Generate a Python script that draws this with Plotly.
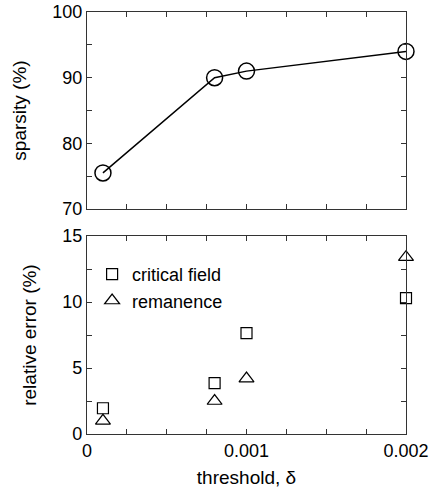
import plotly.graph_objects as go

thresholds = [0.0001, 0.0008, 0.001, 0.002]
sparsity = [75.5, 90.0, 91.0, 94.0]
critical_field_err = [1.95, 3.85, 7.65, 10.3]
remanence_err = [1.0, 2.5, 4.2, 13.4]

FONT = "Liberation Sans, Arial, sans-serif"
LINE = "#333333"
TICKSIZE = 18
TITLESIZE = 19

fig = go.Figure()

fig.add_trace(go.Scatter(
    x=thresholds, y=sparsity, mode="lines+markers", cliponaxis=False,
    line=dict(color="black", width=1.5),
    marker=dict(symbol="circle-open", size=16, color="black", line=dict(width=1.5)),
    xaxis="x2", yaxis="y2", showlegend=False))

fig.add_trace(go.Scatter(
    x=thresholds, y=critical_field_err, mode="markers", name="critical field",
    cliponaxis=False,
    marker=dict(symbol="square-open", size=11, color="black", line=dict(width=1.2)),
    xaxis="x", yaxis="y"))
fig.add_trace(go.Scatter(
    x=thresholds, y=remanence_err, mode="markers", name="remanence",
    cliponaxis=False,
    marker=dict(symbol="triangle-up-open", size=13, color="black", line=dict(width=1.2)),
    xaxis="x", yaxis="y"))

common = dict(showline=True, linecolor=LINE, linewidth=1.3, mirror="ticks",
              ticks="inside", ticklen=5, tickcolor=LINE, showgrid=False, zeroline=False,
              automargin=False,
              tickfont=dict(family=FONT, size=TICKSIZE, color="black"))
minor_common = dict(ticks="inside", ticklen=5, tickcolor=LINE)

fig.update_layout(
    template="none",
    width=431, height=491,
    margin=dict(l=87, r=25, t=12, b=57),
    plot_bgcolor="white", paper_bgcolor="white",
    font=dict(family=FONT, size=TICKSIZE, color="black"),
    xaxis=dict(domain=[0, 1], range=[0, 0.002], tickvals=[0, 0.001, 0.002],
               ticktext=["0", "0.001", "0.002"],
               minor=dict(dtick=0.00025, **minor_common),
               title=dict(text="threshold, δ", font=dict(family=FONT, size=TITLESIZE), standoff=10),
               anchor="y", **common),
    yaxis=dict(domain=[0, 0.469], range=[0, 15], dtick=5,
               minor=dict(dtick=2.5, **minor_common),
               title=dict(text="relative error (%)", font=dict(family=FONT, size=TITLESIZE), standoff=20),
               anchor="x", **common),
    xaxis2=dict(domain=[0, 1], range=[0, 0.002], tickvals=[0, 0.001, 0.002],
                showticklabels=False,
                minor=dict(dtick=0.00025, **minor_common),
                anchor="y2", **common),
    yaxis2=dict(domain=[0.533, 1], range=[70, 100], dtick=10,
                minor=dict(dtick=5, **minor_common),
                title=dict(text="sparsity (%)", font=dict(family=FONT, size=TITLESIZE), standoff=20),
                anchor="x2", **common),
    legend=dict(x=0.016, y=0.422, xanchor="left", yanchor="top",
                bgcolor="rgba(0,0,0,0)", font=dict(family=FONT, size=TICKSIZE),
                itemwidth=30, tracegroupgap=0),
)

fig.write_html("out.html", config={"displayModeBar": False})

with open("out.html", "r", encoding="utf-8") as f:
    html = f.read()
html = html.replace("<body>", '<body style="margin:0;padding:0;overflow:hidden">', 1)
html = html.replace("<head>", '<head><style>html,body{margin:0;padding:0;}</style>', 1)
with open("out.html", "w", encoding="utf-8") as f:
    f.write(html)
